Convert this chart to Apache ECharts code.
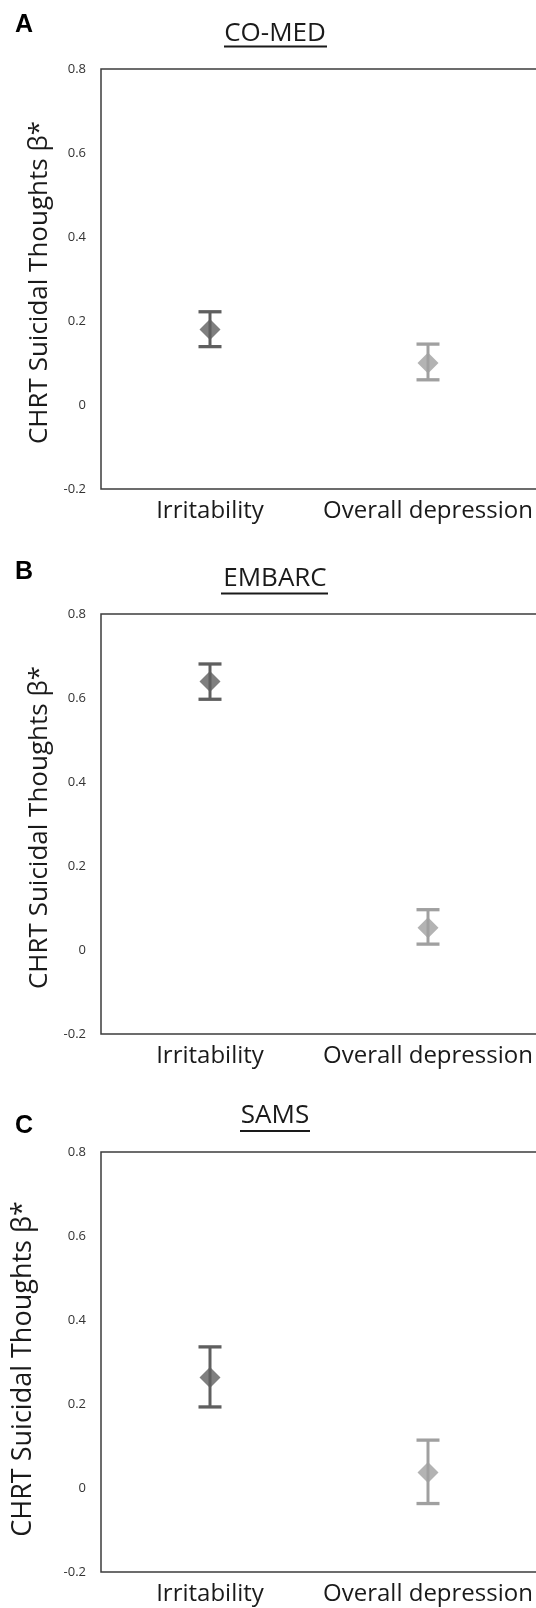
<!DOCTYPE html>
<html>
<head>
<meta charset="utf-8">
<title>CHRT Suicidal Thoughts</title>
<script src="https://cdn.jsdelivr.net/npm/echarts@6/dist/echarts.min.js"></script>
<style>
  html, body { margin: 0; padding: 0; background: #fff; }
  #chart { width: 536px; height: 1608px; }
</style>
</head>
<body>
<div id="chart"></div>
<script>
// categories and panels
var categories = ["Irritability", "Overall depression"];
var studies = ["CO-MED", "EMBARC", "SAMS"];
var panelLetters = ["A", "B", "C"];
var yTicks = [-0.2, 0, 0.2, 0.4, 0.6, 0.8];

// standardized beta (point) and error bar ends, [irritability, overall depression]
var betaComed = [0.18, 0.10];
var lowComed = [0.139, 0.06];
var highComed = [0.222, 0.145];

var betaEmbarc = [0.639, 0.053];
var lowEmbarc = [0.597, 0.014];
var highEmbarc = [0.681, 0.096];

var betaSams = [0.263, 0.037];
var lowSams = [0.193, -0.037];
var highSams = [0.336, 0.114];

var markColors = ["#5f5f5f", "#a0a0a0"];

var panels = [
  { beta: betaComed, low: lowComed, high: highComed },
  { beta: betaEmbarc, low: lowEmbarc, high: highEmbarc },
  { beta: betaSams, low: lowSams, high: highSams }
];

// layout per panel
var gridTops = [69, 614, 1152];
var gridHeight = 420;
var nameGaps = [48, 48, 64];
var nameSizes = [26, 26, 27];
var namePads = [7, 7, 14];
var titleY = [33.5, 579, 1116];
var underlineY = [46.5, 593.5, 1131];
var underlineX = [[224, 327], [221, 328], [240, 310]];
var letterY = [25, 572, 1126];

var chart = echarts.init(document.getElementById("chart"));

// 误差线
function renderErrorBar(params, api) {
  var x = api.value(0);
  var lo = api.coord([x, api.value(1)]);
  var hi = api.coord([x, api.value(2)]);
  var half = 11.5;
  var style = { stroke: markColors[params.dataIndex], lineWidth: 3.3 };
  return {
    type: "group",
    children: [
      { type: "line", shape: { x1: hi[0], y1: hi[1], x2: lo[0], y2: lo[1] }, style: { stroke: style.stroke, lineWidth: 3 } },
      { type: "line", shape: { x1: hi[0] - half, y1: hi[1], x2: hi[0] + half, y2: hi[1] }, style: style },
      { type: "line", shape: { x1: lo[0] - half, y1: lo[1], x2: lo[0] + half, y2: lo[1] }, style: style }
    ]
  };
}

var grids = [], xAxes = [], yAxes = [], series = [], graphics = [];

panels.forEach(function (p, i) {
  grids.push({
    left: 101,
    width: 436,
    top: gridTops[i],
    height: gridHeight,
    outerBoundsMode: "none",
    containLabel: false,
    show: true,
    borderColor: "#3c3c3c",
    borderWidth: 1.5
  });
  xAxes.push({
    type: "category",
    gridIndex: i,
    data: categories,
    axisLine: { show: false },
    axisTick: { show: false },
    axisLabel: {
      margin: 10,
      fontSize: 24,
      color: "#1a1a1a",
      fontFamily: "Open Sans",
      interval: 0,
      hideOverlap: false
    }
  });
  yAxes.push({
    type: "value",
    gridIndex: i,
    min: yTicks[0],
    max: yTicks[yTicks.length - 1],
    interval: 0.2,
    splitLine: { show: false },
    axisLine: { show: false },
    axisTick: { show: false },
    axisLabel: {
      margin: 15,
      fontSize: 13,
      color: "#333",
      fontFamily: "Open Sans"
    },
    name: "CHRT Suicidal Thoughts β*",
    nameLocation: "middle",
    nameGap: nameGaps[i],
    nameTextStyle: {
      fontSize: nameSizes[i],
      color: "#1a1a1a",
      fontFamily: "Open Sans",
      padding: [0, namePads[i], 0, 0]
    }
  });
  series.push({
    type: "custom",
    xAxisIndex: i,
    yAxisIndex: i,
    renderItem: renderErrorBar,
    data: categories.map(function (c, k) {
      return [k, p.low[k], p.high[k]];
    }),
    z: 2
  });
  series.push({
    type: "scatter",
    xAxisIndex: i,
    yAxisIndex: i,
    symbol: "diamond",
    symbolSize: [21, 21],
    data: categories.map(function (c, k) {
      return { value: [k, p.beta[k]], itemStyle: { color: markColors[k] } };
    }),
    z: 3
  });

  graphics.push({
    type: "text",
    x: 275,
    y: titleY[i],
    style: {
      text: studies[i],
      font: '26px "Open Sans"',
      fill: "#1a1a1a",
      align: "center",
      verticalAlign: "middle",
      textAlign: "center",
      textVerticalAlign: "middle"
    }
  });
  graphics.push({
    type: "line",
    shape: { x1: underlineX[i][0], y1: underlineY[i], x2: underlineX[i][1], y2: underlineY[i] },
    style: { stroke: "#1a1a1a", lineWidth: 2 }
  });
  graphics.push({
    type: "text",
    x: 24,
    y: letterY[i],
    style: {
      text: panelLetters[i],
      font: 'bold 25px "Liberation Sans"',
      fill: "#000",
      align: "center",
      verticalAlign: "middle",
      textAlign: "center",
      textVerticalAlign: "middle"
    }
  });
});

chart.setOption({
  animation: false,
  backgroundColor: "#fff",
  grid: grids,
  xAxis: xAxes,
  yAxis: yAxes,
  series: series,
  graphic: graphics
});
</script>
</body>
</html>
